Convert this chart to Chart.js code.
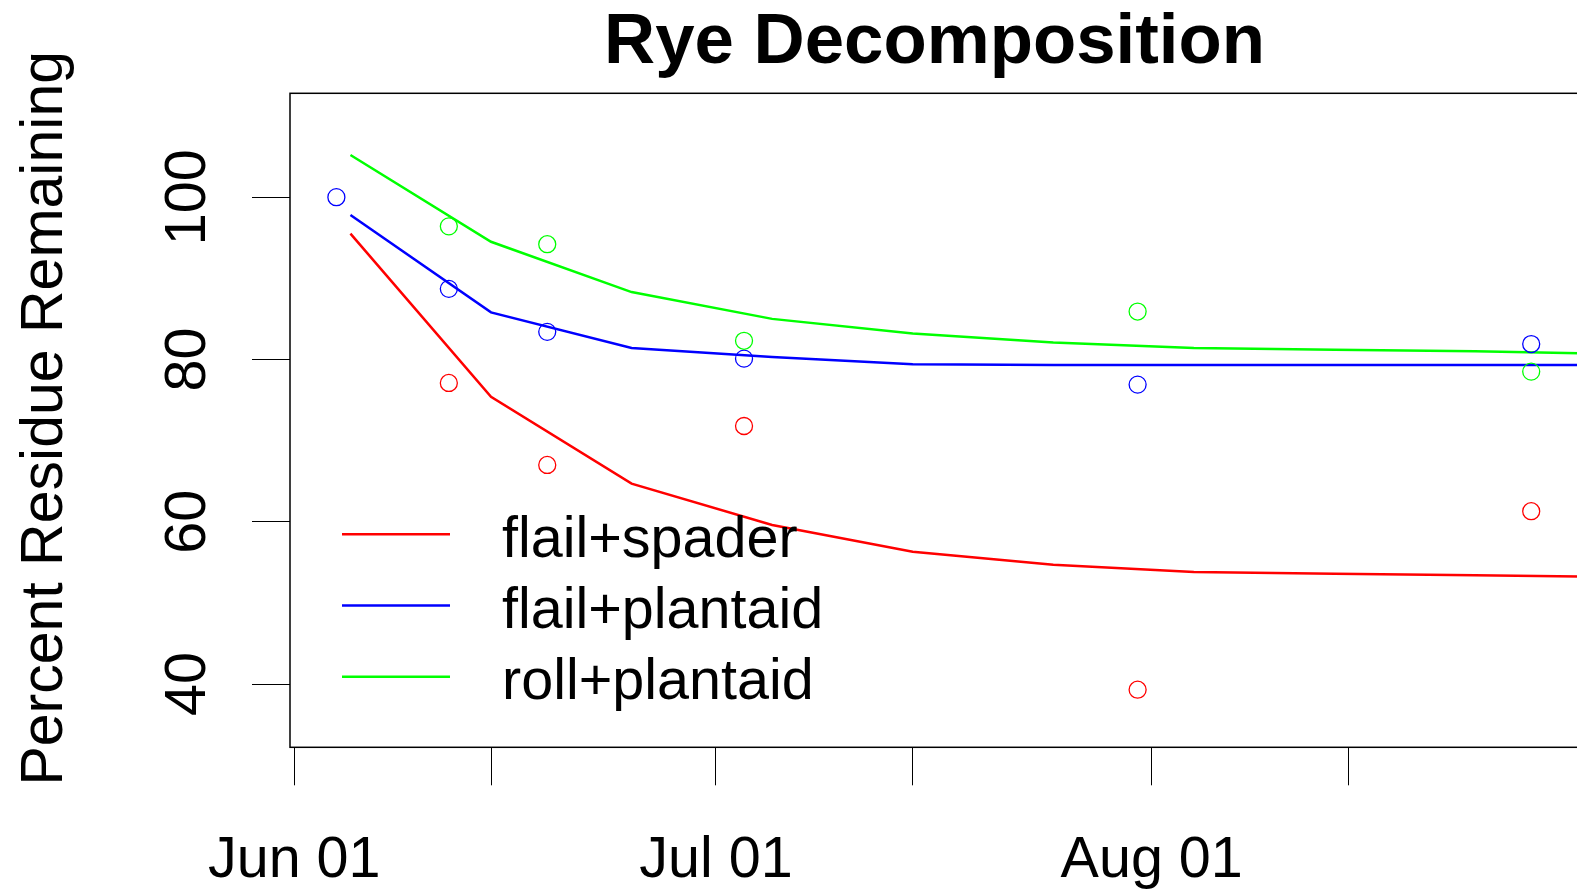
<!DOCTYPE html>
<html>
<head>
<meta charset="utf-8">
<script src="https://cdn.jsdelivr.net/npm/chart.js@4.4.1/dist/chart.umd.min.js"></script>
<style>
  html, body { margin: 0; padding: 0; background: #fff; overflow: hidden; }
  #wrap { position: relative; width: 1590px; height: 889px; }
</style>
</head>
<body>
<div id="wrap"><canvas id="chart"></canvas></div>
<script>
const titleText = 'Rye Decomposition';
const yAxisTitle = 'Percent Residue Remaining';
const seriesNames = ['flail+spader', 'flail+plantaid', 'roll+plantaid'];
const seriesColors = ['#ff0000', '#0000ff', '#00ff00'];

// sampling dates and measured residue
const obsDates = ['06-04', '06-12', '06-19', '07-03', '07-31', '08-28'];
const spaderObs = [null, 77.1, 67.0, 71.8, 39.3, 61.3];
const flailPlantaidObs = [100.0, 88.7, 83.4, 80.1, 76.9, 81.9];
const rollPlantaidObs = [null, 96.4, 94.2, 82.3, 85.9, 78.5];

// fitted decay curves
const fitDates = ['06-05', '06-15', '06-25', '07-05', '07-15', '07-25', '08-04', '08-14', '08-24', '09-03'];
const spaderFit = [95.5, 75.4, 64.7, 59.6, 56.3, 54.7, 53.8, 53.6, 53.4, 53.2];
const flailPlantaidFit = [97.8, 85.8, 81.4, 80.3, 79.4, 79.3, 79.3, 79.3, 79.3, 79.3];
const rollPlantaidFit = [105.2, 94.5, 88.3, 85.0, 83.2, 82.1, 81.4, 81.2, 81.0, 80.7];

const xTickDates = ['06-01', '06-15', '07-01', '07-15', '08-01', '08-15'];
const xTickLabels = ['Jun 01', '', 'Jul 01', '', 'Aug 01', ''];
const yTicks = [40, 60, 80, 100];

const FONT = "'Liberation Sans', Arial, sans-serif";

// days since Jun 01
function dayOf(md) {
    const [m, d] = md.split('-').map(Number);
    return (Date.UTC(2000, m - 1, d) - Date.UTC(2000, 5, 1)) / 86400000;
}

function toPoints(dates, values) {
    return dates.map((d, i) => ({ x: dayOf(d), y: values[i] }));
}

const fits = [spaderFit, flailPlantaidFit, rollPlantaidFit];
const obs = [spaderObs, flailPlantaidObs, rollPlantaidObs];

const datasets = [];
fits.forEach((vals, i) => {
    datasets.push({
        label: seriesNames[i],
        data: toPoints(fitDates, vals),
        borderColor: seriesColors[i],
        borderWidth: 2.5,
        pointRadius: 0,
        tension: 0,
        fill: false,
        order: 10 + i
    });
});
obs.forEach((vals, i) => {
    datasets.push({
        label: seriesNames[i] + ' obs',
        data: toPoints(obsDates, vals),
        showLine: false,
        borderColor: seriesColors[i],
        backgroundColor: 'rgba(0,0,0,0)',
        pointStyle: 'circle',
        pointRadius: 8.5,
        pointBorderWidth: 1.3,
        pointBorderColor: seriesColors[i],
        pointBackgroundColor: 'rgba(0,0,0,0)',
        order: 3 - i
    });
});

const boxPlugin = {
    id: 'box',
    beforeDatasetsDraw(chart) {
        const { ctx, chartArea: a } = chart;
        ctx.save();
        ctx.strokeStyle = '#000';
        ctx.lineWidth = 1.5;
        ctx.strokeRect(a.left, a.top, a.right - a.left, a.bottom - a.top);
        ctx.restore();
    }
};

// title centred over the plot region, y title beside the axis
const textPlugin = {
    id: 'plotText',
    afterDraw(chart) {
        const { ctx, chartArea: a } = chart;
        ctx.save();
        ctx.fillStyle = '#000';
        ctx.textAlign = 'center';
        ctx.textBaseline = 'alphabetic';
        ctx.font = 'bold 70.8px ' + FONT;
        ctx.fillText(titleText, (a.left + a.right) / 2, 62.5);

        ctx.translate(62, (a.top + a.bottom) / 2 - 2);
        ctx.rotate(-Math.PI / 2);
        ctx.font = '59px ' + FONT;
        ctx.fillText(yAxisTitle, 0, 0);
        ctx.restore();
    }
};

const legendPlugin = {
    id: 'insideLegend',
    afterDraw(chart) {
        const { ctx, chartArea: a } = chart;
        const x0 = a.left + 52, x1 = a.left + 160, tx = a.left + 212;
        const y0 = 534.3, step = 71.2;
        ctx.save();
        ctx.font = '57.5px ' + FONT;
        ctx.textAlign = 'left';
        ctx.textBaseline = 'alphabetic';
        seriesNames.forEach((name, i) => {
            const y = y0 + i * step;
            ctx.strokeStyle = seriesColors[i];
            ctx.lineWidth = 2.5;
            ctx.beginPath();
            ctx.moveTo(x0, y);
            ctx.lineTo(x1, y);
            ctx.stroke();
            ctx.fillStyle = '#000';
            ctx.fillText(name, tx, y + 22.5);
        });
        ctx.restore();
    }
};

const ctx = document.getElementById('chart').getContext('2d');
const myChart = new Chart(ctx, {
    type: 'line',
    data: { datasets: datasets },
    plugins: [boxPlugin, textPlugin, legendPlugin],
    options: {
        responsive: true,
        maintainAspectRatio: false,
        animation: false,
        layout: { padding: { left: 0, right: 11, top: 93.3, bottom: 0 } },
        plugins: {
            legend: { display: false },
            tooltip: { enabled: false },
            title: { display: false }
        },
        scales: {
            x: {
                type: 'linear',
                min: -0.3,
                max: 91.4,
                border: { display: false },
                grid: { drawOnChartArea: false, drawTicks: true, tickLength: 38, color: '#000', lineWidth: 1 },
                ticks: {
                    autoSkip: false,
                    maxRotation: 0,
                    padding: 41,
                    color: '#000',
                    font: { family: FONT, size: 57.5, lineHeight: 1.2 },
                    callback: function(value) {
                        const i = xTickDates.findIndex(d => dayOf(d) === value);
                        return i >= 0 ? xTickLabels[i] : '';
                    }
                },
                afterBuildTicks: s => { s.ticks = xTickDates.map(d => ({ value: dayOf(d) })); },
                afterFit: s => { s.height = 141.7; }
            },
            y: {
                min: 32.2,
                max: 112.8,
                border: { display: false },
                grid: { drawOnChartArea: false, drawTicks: true, tickLength: 38, color: '#000', lineWidth: 1 },
                ticks: {
                    autoSkip: false,
                    minRotation: 90,
                    maxRotation: 90,
                    crossAlign: 'center',
                    padding: 15,
                    color: '#000',
                    font: { family: FONT, size: 57.5, lineHeight: 1.2 },
                    callback: v => String(v)
                },
                afterBuildTicks: s => { s.ticks = yTicks.map(v => ({ value: v })); },
                afterFit: s => { s.width = 290; }
            }
        }
    }
});
</script>
</body>
</html>
